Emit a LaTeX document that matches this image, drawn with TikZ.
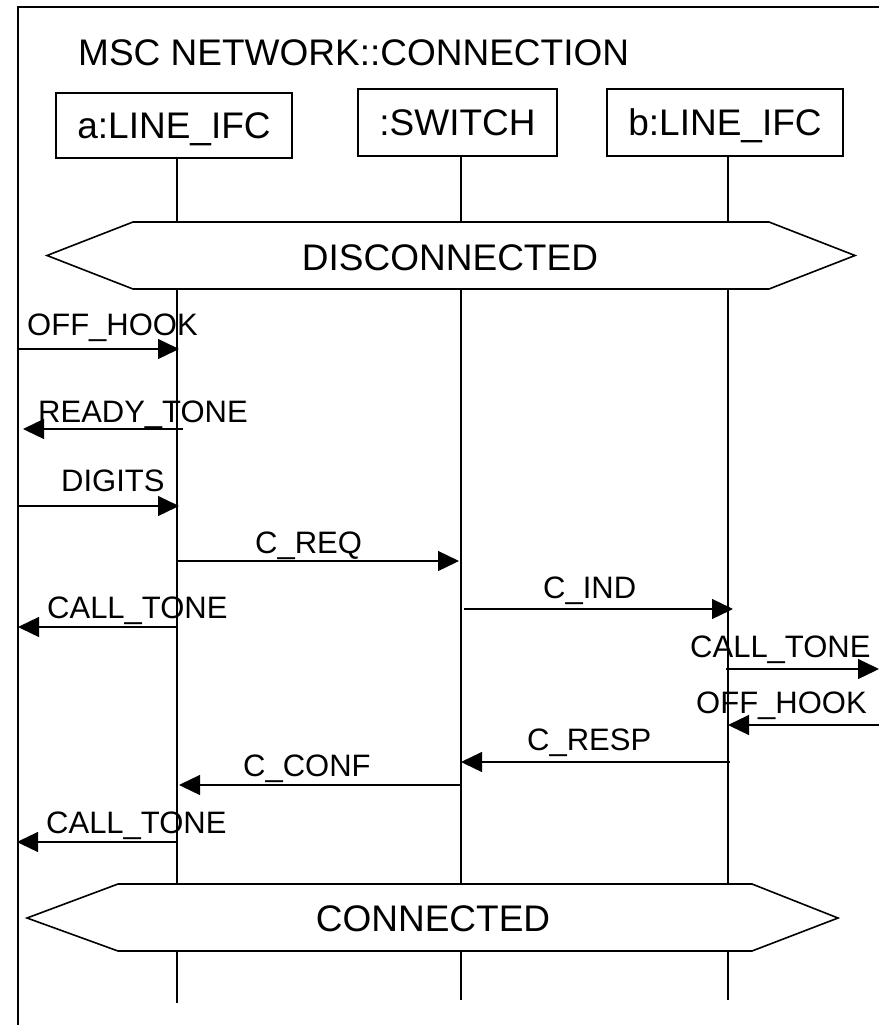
\documentclass[tikz,border=0pt]{standalone}
\usepackage{fontspec}
\setmainfont{Liberation Sans}
\usetikzlibrary{arrows.meta}
\newcommand\mscbigfont{\fontsize{37}{44}\selectfont}
\newcommand\mscmsgfont{\fontsize{31}{37}\selectfont}
\begin{document}
\begin{tikzpicture}[x=1pt,y=-1pt,
  frameline/.style={line width=1.6pt},
  inst/.style={draw, line width=1.6pt, font=\mscbigfont, text height=26.5pt, text depth=0pt, inner sep=0pt},
  life/.style={line width=1.3pt},
  cond/.style={draw, line width=1.6pt, fill=white, line join=miter},
  condtext/.style={font=\mscbigfont, anchor=base, inner sep=0pt},
  msg/.style={line width=1.3pt, -{Triangle[length=21pt,width=20pt]}},
  lbl/.style={font=\mscmsgfont, anchor=base west, inner sep=0pt},
]
\useasboundingbox (0,0) rectangle (879,1025);
% frame
\coordinate (fbl) at (18,1025);
\coordinate (ftl) at (18,7);
\coordinate (ftr) at (879,7);
\draw[frameline] (fbl) -- (ftl) -- (ftr);
\node[font=\mscbigfont, anchor=base west, inner sep=0pt] (title) at (78,66) {MSC NETWORK::CONNECTION};
% instances
\node[inst, minimum width=236pt, minimum height=65pt] (ia) at (174,125.5) {a:LINE\_IFC};
\node[inst, minimum width=199pt, minimum height=67pt] (isw) at (457.5,122.5) {:SWITCH};
\node[inst, minimum width=236pt, minimum height=67pt] (ib) at (725,122.5) {b:LINE\_IFC};
% lifelines
\coordinate (la) at (177,1003);
\coordinate (ls) at (461,1000);
\coordinate (lb) at (728,1000);
\draw[life] (ia.south -| la) -- (la);
\draw[life] (isw.south -| ls) -- (ls);
\draw[life] (ib.south -| lb) -- (lb);
% conditions
\draw[cond] (47,255.5) -- (133,222) -- (769,222) -- (855,255.5) -- (769,289) -- (133,289) -- cycle;
\node[condtext] (cdis) at (450,270) {DISCONNECTED};
\draw[cond] (27,918) -- (118,884) -- (752,884) -- (838,918) -- (752,951) -- (118,951) -- cycle;
\node[condtext] (ccon) at (433,931) {CONNECTED};
% message end points
\coordinate (m1s) at (18,349);   \coordinate (m1e) at (179,349);
\coordinate (m2s) at (183,429);  \coordinate (m2e) at (23,429);
\coordinate (m3s) at (18,506);   \coordinate (m3e) at (179,506);
\coordinate (m4s) at (178,561);  \coordinate (m4e) at (459,561);
\coordinate (m5s) at (464,609);  \coordinate (m5e) at (733,609);
\coordinate (m6s) at (178,627);  \coordinate (m6e) at (18,627);
\coordinate (m7s) at (726,669);  \coordinate (m7e) at (879,669);
\coordinate (m8s) at (879,725);  \coordinate (m8e) at (728,725);
\coordinate (m9s) at (730,762);  \coordinate (m9e) at (461,762);
\coordinate (m10s) at (460,785); \coordinate (m10e) at (179,785);
\coordinate (m11s) at (177,842); \coordinate (m11e) at (17,842);
% messages
\draw[msg] (m1s) -- (m1e);
\draw[msg] (m2s) -- (m2e);
\draw[msg] (m3s) -- (m3e);
\draw[msg] (m4s) -- (m4e);
\draw[msg] (m5s) -- (m5e);
\draw[msg] (m6s) -- (m6e);
\draw[msg] (m7s) -- (m7e);
\draw[msg] (m8s) -- (m8e);
\draw[msg] (m9s) -- (m9e);
\draw[msg] (m10s) -- (m10e);
\draw[msg] (m11s) -- (m11e);
% labels
\node[lbl] (t1) at (27,335) {OFF\_HOOK};
\node[lbl] (t2) at (38,422) {READY\_TONE};
\node[lbl] (t3) at (61,491) {DIGITS};
\node[lbl] (t4) at (255,553) {C\_REQ};
\node[lbl] (t5) at (543,598) {C\_IND};
\node[lbl] (t6) at (47,618) {CALL\_TONE};
\node[lbl] (t7) at (690,657) {CALL\_TONE};
\node[lbl] (t8) at (696,713) {OFF\_HOOK};
\node[lbl] (t9) at (527,750) {C\_RESP};
\node[lbl] (t10) at (243,776) {C\_CONF};
\node[lbl] (t11) at (46,833) {CALL\_TONE};
\end{tikzpicture}
\end{document}
